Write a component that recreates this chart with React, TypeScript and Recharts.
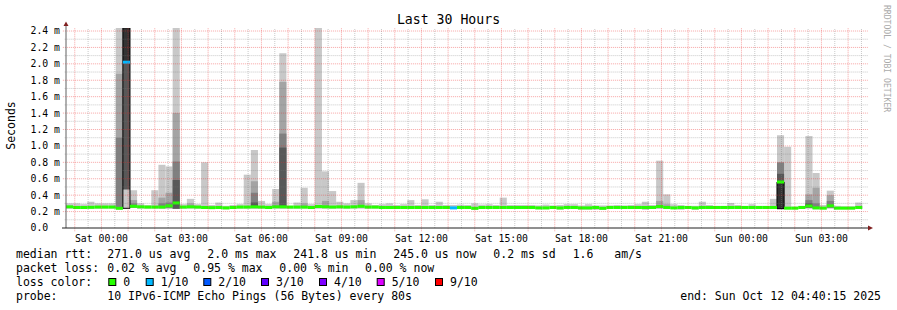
import React from 'react';
import { ComposedChart, Bar, XAxis, YAxis, ReferenceLine } from 'recharts';

// ---------- data ----------
// 112 consolidated 16-minute bins, values in milliseconds
const binIndex: number[] = Array.from({ length: 112 }, (_, i) => i);

const medianRtt: number[] = [
  0.258, 0.25, 0.25, 0.252, 0.255, 0.255, 0.255, 0.24, 2.02, 0.265,
  0.258, 0.255, 0.255, 0.255, 0.27, 0.305, 0.255, 0.258, 0.255, 0.25,
  0.248, 0.25, 0.245, 0.25, 0.255, 0.255, 0.258, 0.255, 0.25, 0.258,
  0.258, 0.255, 0.255, 0.255, 0.25, 0.262, 0.258, 0.255, 0.258, 0.255,
  0.258, 0.265, 0.255, 0.255, 0.25, 0.25, 0.25, 0.25, 0.25, 0.25,
  0.25, 0.25, 0.25, 0.25, 0.245, 0.25, 0.25, 0.24, 0.25, 0.25,
  0.25, 0.25, 0.25, 0.25, 0.25, 0.25, 0.245, 0.245, 0.25, 0.245,
  0.25, 0.25, 0.245, 0.245, 0.25, 0.24, 0.25, 0.25, 0.25, 0.25,
  0.25, 0.25, 0.25, 0.262, 0.25, 0.245, 0.25, 0.25, 0.245, 0.25,
  0.25, 0.25, 0.25, 0.25, 0.25, 0.25, 0.25, 0.25, 0.25, 0.25,
  0.56, 0.242, 0.242, 0.25, 0.268, 0.245, 0.242, 0.27, 0.242, 0.242,
  0.242, 0.25,
];

const smokeLow: number[] = [
  0.235, 0.232, 0.232, 0.235, 0.235, 0.235, 0.235, 0.228, 0.24, 0.245,
  0.235, 0.235, 0.235, 0.235, 0.235, 0.235, 0.235, 0.235, 0.235, 0.235,
  0.232, 0.235, 0.228, 0.235, 0.235, 0.235, 0.235, 0.235, 0.232, 0.235,
  0.235, 0.235, 0.235, 0.235, 0.235, 0.235, 0.235, 0.235, 0.235, 0.235,
  0.235, 0.235, 0.235, 0.235, 0.235, 0.235, 0.235, 0.235, 0.235, 0.235,
  0.235, 0.235, 0.235, 0.235, 0.232, 0.235, 0.235, 0.222, 0.235, 0.235,
  0.235, 0.235, 0.235, 0.235, 0.235, 0.235, 0.228, 0.228, 0.235, 0.222,
  0.235, 0.235, 0.222, 0.222, 0.222, 0.222, 0.235, 0.235, 0.235, 0.235,
  0.235, 0.222, 0.235, 0.235, 0.235, 0.232, 0.222, 0.235, 0.222, 0.235,
  0.235, 0.235, 0.235, 0.235, 0.235, 0.235, 0.235, 0.235, 0.235, 0.235,
  0.235, 0.228, 0.228, 0.235, 0.24, 0.228, 0.228, 0.24, 0.228, 0.228,
  0.228, 0.235,
];

const smokeHigh: number[] = [
  0.30, 0.30, 0.29, 0.32, 0.30, 0.30, 0.30, 2.44, 2.44, 0.46,
  0.30, 0.28, 0.46, 0.77, 0.75, 2.44, 0.29, 0.355, 0.29, 0.80,
  0.28, 0.31, 0.27, 0.28, 0.29, 0.65, 0.95, 0.33, 0.29, 0.475,
  2.13, 0.27, 0.31, 0.49, 0.29, 2.44, 0.69, 0.45, 0.32, 0.30,
  0.34, 0.55, 0.30, 0.28, 0.29, 0.30, 0.28, 0.29, 0.34, 0.28,
  0.35, 0.28, 0.32, 0.28, 0.28, 0.285, 0.28, 0.30, 0.285, 0.29,
  0.28, 0.37, 0.28, 0.28, 0.28, 0.28, 0.275, 0.285, 0.275, 0.28,
  0.29, 0.29, 0.275, 0.29, 0.275, 0.275, 0.275, 0.28, 0.275, 0.28,
  0.29, 0.32, 0.28, 0.82, 0.41, 0.29, 0.28, 0.27, 0.27, 0.32,
  0.28, 0.27, 0.27, 0.305, 0.28, 0.27, 0.29, 0.27, 0.27, 0.355,
  1.13, 0.99, 0.26, 0.27, 1.12, 0.67, 0.28, 0.455, 0.27, 0.265,
  0.265, 0.31,
];

// inner (darker) smoke bands, by bin: [low, high]
const smokeBand2: Record<number, [number, number]> = {
  7: [0.235, 1.88], 9: [0.245, 0.34], 13: [0.24, 0.37], 14: [0.24, 0.43], 15: [0.235, 1.4],
  17: [0.245, 0.3], 26: [0.24, 0.57], 29: [0.245, 0.32], 30: [0.24, 1.78], 33: [0.245, 0.3],
  36: [0.245, 0.33], 41: [0.245, 0.34], 83: [0.24, 0.33], 84: [0.245, 0.29], 104: [0.24, 0.41],
  105: [0.235, 0.49], 107: [0.24, 0.4],
};
const smokeBand3: Record<number, [number, number]> = {
  7: [0.235, 1.1], 9: [0.25, 0.3], 13: [0.245, 0.3], 14: [0.245, 0.31], 15: [0.235, 0.81],
  26: [0.245, 0.43], 30: [0.245, 1.15], 100: [0.235, 0.8], 104: [0.245, 0.34], 105: [0.24, 0.3],
  107: [0.245, 0.33],
};
const smokeBand4: Record<number, [number, number]> = {
  8: [0.47, 2.02], 15: [0.235, 0.585], 26: [0.245, 0.31], 30: [0.25, 0.98], 100: [0.235, 0.66],
  104: [0.25, 0.3],
};
const smokeBand5: Record<number, [number, number]> = {
  8: [2.02, 2.44], 100: [0.235, 0.56],
};
const smokeEdge: Record<number, [number, number]> = {
  8: [0.24, 2.44], 100: [0.235, 0.56],
};

const lossByBin: Record<number, string> = { 8: '1/10', 54: '1/10' };

const lossLevels: string[] = ['0', '1/10', '2/10', '3/10', '4/10', '5/10', '9/10'];
const lossColors: string[] = ['#26ff00', '#00b8ff', '#0059ff', '#5e00ff', '#7e00ff', '#dd00ff', '#ff0000'];

const yTicks: number[] = [0, 0.2, 0.4, 0.6, 0.8, 1.0, 1.2, 1.4, 1.6, 1.8, 2.0, 2.2, 2.4];
const yTickLabels: string[] = ['0.0\u00a0\u00a0', '0.2 m', '0.4 m', '0.6 m', '0.8 m', '1.0 m', '1.2 m', '1.4 m', '1.6 m', '1.8 m', '2.0 m', '2.2 m', '2.4 m'];
const yMinorTicks: number[] = [0.1, 0.3, 0.5, 0.7, 0.9, 1.1, 1.3, 1.5, 1.7, 1.9, 2.1, 2.3];

// minutes since graph start (Fri 22:40:15)
const timeTicks: number[] = [79.75, 259.75, 439.75, 619.75, 799.75, 979.75, 1159.75, 1339.75, 1519.75, 1699.75];
const timeTickLabels: string[] = ['Sat 00:00', 'Sat 03:00', 'Sat 06:00', 'Sat 09:00', 'Sat 12:00', 'Sat 15:00', 'Sat 18:00', 'Sat 21:00', 'Sun 00:00', 'Sun 03:00'];
const hourMarks: number[] = Array.from({ length: 30 }, (_, j) => 19.75 + 60 * j);
const halfHourMarks: number[] = Array.from({ length: 30 }, (_, j) => 49.75 + 60 * j);

const title = 'Last 30 Hours';
const yLabel = 'Seconds';
const watermark = 'RRDTOOL / TOBI OETIKER';
const rttLegend: string[] = ['median rtt:', '271.0 us avg', '2.0 ms max', '241.8 us min', '245.0 us now', '0.2 ms sd', '1.6', 'am/s'];
const lossLegend: string[] = ['packet loss:', '0.02 % avg', '0.95 % max', '0.00 % min', '0.00 % now'];
const lossColorLabel = 'loss color:';
const probeLabel = 'probe:';
const probeText = '10 IPv6-ICMP Echo Pings (56 Bytes) every 80s';
const endText = 'end: Sun Oct 12 04:40:15 2025';

// ---------- layout ----------
const W = 897;
const H = 310;
const Y_MAX = 2.4366;
const MONO = "'DejaVu Sans Mono', monospace";
const rttX = [16, 107.3, 207.3, 293.3, 393.3, 493.3, 572.7, 614.3];
const lossX = [16, 107.3, 193.3, 279.3, 365];
const boxX = [108.3, 145.7, 203.3, 261, 319, 376.7, 435];

const rows = binIndex.map((k) => ({
  bin: k,
  smoke: [smokeLow[k], smokeHigh[k]],
  b2: smokeBand2[k] ?? null,
  b3: smokeBand3[k] ?? null,
  b4: smokeBand4[k] ?? null,
  b5: smokeBand5[k] ?? null,
  edge: smokeEdge[k] ?? null,
  median: medianRtt[k],
  loss: lossByBin[k] ?? '0',
}));

const colorOfLoss = (l: string) => lossColors[Math.max(0, lossLevels.indexOf(l))];

const MedianShape = (p: any) => {
  if (p == null || p.y == null || isNaN(p.y)) return null;
  const c = colorOfLoss(p.payload?.loss ?? '0');
  return <rect x={p.x} y={p.y - 1.5} width={p.width} height={3} fill={c} />;
};

const UpArrow = (p: any) => {
  const vb = p.viewBox;
  if (!vb) return null;
  const x = vb.x;
  const y = vb.y;
  return <polygon points={`${x},${y - 4} ${x - 2.5},${y + 0.7} ${x + 2.5},${y + 0.7}`} fill="#802020" />;
};

const RightArrow = (p: any) => {
  const vb = p.viewBox;
  if (!vb) return null;
  const x = vb.x + vb.width;
  const y = vb.y;
  return <polygon points={`${x + 5},${y} ${x},${y - 2.5} ${x},${y + 2.5}`} fill="#802020" />;
};

const BAR_AXES = ['c1', 'c2', 'c3', 'c4', 'c5', 'c6', 'c7'];
const MAJOR = 'rgba(235,40,40,0.42)';
const MINOR = 'rgba(120,120,120,0.4)';

export default function App() {
  return (
    <div style={{ position: 'relative', width: W, height: H, background: '#fff', overflow: 'hidden' }}>
      <style>{'body{margin:0}'}</style>
      <ComposedChart width={W} height={H} data={rows} margin={{ top: 28, right: 31, bottom: 52, left: 6 }}>
        <XAxis
          xAxisId={0}
          type="number"
          dataKey="t"
          domain={[0, 1800]}
          allowDataOverflow
          ticks={timeTicks}
          interval={0}
          tickFormatter={(_v: any, i: number) => timeTickLabels[i]}
          axisLine={false}
          tickLine={false}
          tickSize={0}
          tickMargin={7}
          height={30}
          tick={{ fontSize: 9.8, fontFamily: MONO, fill: '#000' }}
        />
        {BAR_AXES.map((id) => (
          <XAxis key={id} xAxisId={id} type="category" dataKey="bin" hide padding={{ left: 0, right: 3.7 }} />
        ))}
        <YAxis
          yAxisId={0}
          type="number"
          domain={[0, Y_MAX]}
          allowDataOverflow
          ticks={yTicks}
          interval={0}
          tickFormatter={(_v: any, i: number) => yTickLabels[i]}
          axisLine={false}
          tickLine={false}
          tickSize={0}
          tickMargin={6}
          width={60}
          tick={{ fontSize: 9.8, fontFamily: MONO, fill: '#000' }}
        />

        <Bar xAxisId="c1" dataKey="smoke" fill="#c8c8c8" barSize={7.1} isAnimationActive={false} />
        <Bar xAxisId="c2" dataKey="b2" fill="#a4a4a4" barSize={7.1} isAnimationActive={false} />
        <Bar xAxisId="c3" dataKey="b3" fill="#808080" barSize={7.1} isAnimationActive={false} />
        <Bar xAxisId="c4" dataKey="b4" fill="#585858" barSize={7.1} isAnimationActive={false} />
        <Bar xAxisId="c5" dataKey="b5" fill="#333333" barSize={7.1} isAnimationActive={false} />
        <Bar xAxisId="c6" dataKey="edge" fill="none" stroke="#000" strokeWidth={1} barSize={7.1} isAnimationActive={false} />

        {yMinorTicks.map((v) => (
          <ReferenceLine key={'ym' + v} segment={[{ x: -3, y: v }, { x: 1804, y: v }]} stroke={MINOR} strokeDasharray="1 1" ifOverflow="visible" />
        ))}
        {halfHourMarks.map((m) => (
          <ReferenceLine key={'xm' + m} segment={[{ x: m, y: 0 }, { x: m, y: Y_MAX }]} stroke={MINOR} strokeDasharray="1 1" ifOverflow="visible" />
        ))}
        {yTicks.filter((v) => v > 0).map((v) => (
          <ReferenceLine key={'yM' + v} segment={[{ x: -7, y: v }, { x: 1804, y: v }]} stroke={MAJOR} strokeDasharray="1 1" ifOverflow="visible" />
        ))}
        {hourMarks.map((m) => (
          <ReferenceLine key={'xM' + m} segment={[{ x: m, y: -0.04 }, { x: m, y: Y_MAX }]} stroke={MAJOR} strokeDasharray="1 1" ifOverflow="visible" />
        ))}

        <Bar xAxisId="c7" dataKey="median" barSize={7.1} shape={<MedianShape />} isAnimationActive={false} />

        <ReferenceLine segment={[{ x: 0, y: 0 }, { x: 0, y: 2.468 }]} stroke="#606060" ifOverflow="visible" label={<UpArrow />} />
        <ReferenceLine segment={[{ x: -9, y: 0 }, { x: 1804.5, y: 0 }]} stroke="#202020" ifOverflow="visible" label={<RightArrow />} />
      </ComposedChart>

      <svg width={W} height={H} style={{ position: 'absolute', left: 0, top: 0, pointerEvents: 'none' }} fontFamily={MONO}>
        <text x={448.5} y={24} textAnchor="middle" fontSize={13.2} fill="#000">{title}</text>
        <text transform="translate(15,125.5) rotate(-90)" textAnchor="middle" fontSize={11.5} fill="#000">{yLabel}</text>
        <text transform="translate(884,5) rotate(90)" fontSize={8.1} fill="#aaaaaa">{watermark}</text>

        {rttLegend.map((s, i) => (
          <text key={'r' + i} x={rttX[i]} y={258.3} fontSize={11.5} fill="#000" style={{ whiteSpace: 'pre' }}>{s}</text>
        ))}
        {lossLegend.map((s, i) => (
          <text key={'l' + i} x={lossX[i]} y={272.3} fontSize={11.5} fill="#000" style={{ whiteSpace: 'pre' }}>{s}</text>
        ))}
        <text x={16} y={286.3} fontSize={11.5} fill="#000">{lossColorLabel}</text>
        {lossLevels.map((s, i) => (
          <g key={'c' + i}>
            <rect x={boxX[i] + 0.5} y={278.5} width={7} height={7} fill={lossColors[i]} stroke="#000" strokeWidth={1} />
            <text x={boxX[i] + 15} y={286.3} fontSize={11.5} fill="#000">{s}</text>
          </g>
        ))}
        <text x={16} y={300.3} fontSize={11.5} fill="#000">{probeLabel}</text>
        <text x={107.3} y={300.3} fontSize={11.5} fill="#000" style={{ whiteSpace: 'pre' }}>{probeText}</text>
        <text x={881} y={300.3} textAnchor="end" fontSize={11.5} fill="#000" style={{ whiteSpace: 'pre' }}>{endText}</text>
      </svg>
    </div>
  );
}
